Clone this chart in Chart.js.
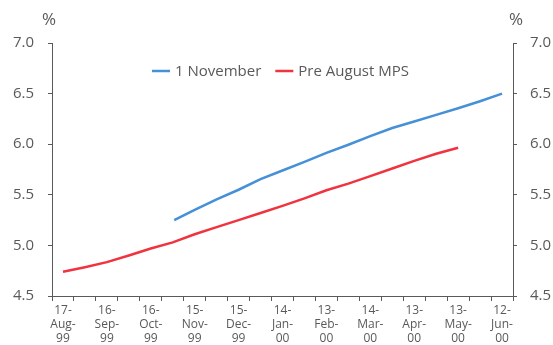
<!DOCTYPE html>
<html>
<head>
<meta charset="utf-8">
<script src="https://cdn.jsdelivr.net/npm/chart.js@4/dist/chart.umd.min.js"></script>
<style>
    html, body { margin: 0; padding: 0; background: #fff; }
    #wrap { width: 553px; height: 345px; }
</style>
</head>
<body>
<div id="wrap"><canvas id="chart" width="553" height="345"></canvas></div>
<script>
// Chart data
const startDate = '1999-08-17';

const tickLabels = ['17-Aug-99', '16-Sep-99', '16-Oct-99', '15-Nov-99', '15-Dec-99', '14-Jan-00',
    '13-Feb-00', '14-Mar-00', '13-Apr-00', '13-May-00', '12-Jun-00'];

const novDates = ['1999-11-01', '1999-11-15', '1999-11-30', '1999-12-15', '1999-12-30', '2000-01-14',
    '2000-01-29', '2000-02-13', '2000-02-28', '2000-03-14', '2000-03-29', '2000-04-13',
    '2000-04-28', '2000-05-13', '2000-05-28', '2000-06-12'];
const novValues = [5.25, 5.35, 5.455, 5.55, 5.655, 5.74, 5.825, 5.915, 5.995, 6.08, 6.16, 6.225,
    6.29, 6.355, 6.425, 6.50];

const augDates = ['1999-08-17', '1999-09-01', '1999-09-16', '1999-10-01', '1999-10-16', '1999-10-31',
    '1999-11-15', '1999-11-30', '1999-12-15', '1999-12-30', '2000-01-14', '2000-01-29',
    '2000-02-13', '2000-02-28', '2000-03-14', '2000-03-29', '2000-04-13', '2000-04-28', '2000-05-13'];
const augValues = [4.74, 4.785, 4.835, 4.90, 4.97, 5.03, 5.11, 5.18, 5.25, 5.32, 5.39, 5.465,
    5.545, 5.61, 5.685, 5.76, 5.835, 5.905, 5.965];

const textColor = '#595959';
const axisColor = '#5a5a5a';
const fontFamily = "'Open Sans', 'Noto Sans', sans-serif";

// days since the first date
function dayOffset(d) {
    return Math.round((Date.parse(d) - Date.parse(startDate)) / 86400000);
}

function toPoints(dates, values) {
    return dates.map((d, i) => ({ x: dayOffset(d), y: values[i] }));
}

// Draws the "%" unit labels and the legend inside the plot
const extrasPlugin = {
    id: 'extras',
    afterDraw(chart) {
        const ctx = chart.ctx;
        const area = chart.chartArea;
        ctx.save();
        ctx.fillStyle = textColor;
        ctx.font = '17px ' + fontFamily;
        ctx.textAlign = 'center';
        ctx.textBaseline = 'middle';
        ctx.fillText('%', area.left - 3, 20);
        ctx.fillText('%', area.right + 3, 20);

        // legend
        ctx.font = '15px ' + fontFamily;
        let x = 152;
        const y = 71;
        ctx.textAlign = 'left';
        chart.data.datasets.forEach(ds => {
            ctx.strokeStyle = ds.borderColor;
            ctx.lineWidth = 2.5;
            ctx.beginPath();
            ctx.moveTo(x, y);
            ctx.lineTo(x + 18, y);
            ctx.stroke();
            ctx.fillText(ds.label, x + 23, y + 1);
            x += 23 + ctx.measureText(ds.label).width + 14;
        });
        ctx.restore();
    }
};

function yTicks(pad) {
    return {
        stepSize: 0.5,
        color: textColor,
        padding: pad,
        font: { family: fontFamily, size: 15 },
        callback: v => v.toFixed(1)
    };
}

new Chart(document.getElementById('chart'), {
    type: 'line',
    data: {
        datasets: [{
            label: '1 November',
            data: toPoints(novDates, novValues),
            borderColor: '#4590d6',
            borderWidth: 2.5,
            pointRadius: 0,
            tension: 0,
            yAxisID: 'y'
        }, {
            label: 'Pre August MPS',
            data: toPoints(augDates, augValues),
            borderColor: '#f0333f',
            borderWidth: 2.5,
            pointRadius: 0,
            tension: 0,
            yAxisID: 'y'
        }]
    },
    plugins: [extrasPlugin],
    options: {
        responsive: false,
        animation: false,
        layout: { padding: { top: 43, left: 0, right: 0, bottom: 0 } },
        plugins: {
            legend: { display: false },
            tooltip: { enabled: false }
        },
        scales: {
            x: {
                type: 'linear',
                min: -7.5,
                max: 307.5,
                afterFit: s => { s.height = 49; },
                border: { color: axisColor, width: 1 },
                grid: {
                    drawOnChartArea: false,
                    tickLength: 5,
                    tickColor: c => (Math.abs(c.tick.value) % 15 === 7.5 ? axisColor : 'rgba(0,0,0,0)')
                },
                ticks: {
                    stepSize: 7.5,
                    autoSkip: false,
                    maxRotation: 0,
                    padding: 2,
                    color: textColor,
                    font: { family: fontFamily, size: 12, lineHeight: 1.2 },
                    callback: v => {
                        if (v % 30 !== 0) return '';
                        const label = tickLabels[v / 30];
                        if (!label) return '';
                        const parts = label.split('-');
                        return [parts[0] + '-', parts[1] + '-', parts[2]];
                    }
                }
            },
            y: {
                position: 'left',
                min: 4.5,
                max: 7.0,
                afterFit: s => { s.width = 52; },
                border: { color: axisColor, width: 1 },
                grid: { drawOnChartArea: false, tickLength: 4, tickColor: axisColor },
                ticks: yTicks(14)
            },
            y2: {
                position: 'right',
                min: 4.5,
                max: 7.0,
                afterFit: s => { s.width = 40; },
                border: { color: axisColor, width: 1 },
                grid: { drawOnChartArea: false, tickLength: 4, tickColor: axisColor },
                ticks: yTicks(13)
            }
        }
    }
});
</script>
</body>
</html>
